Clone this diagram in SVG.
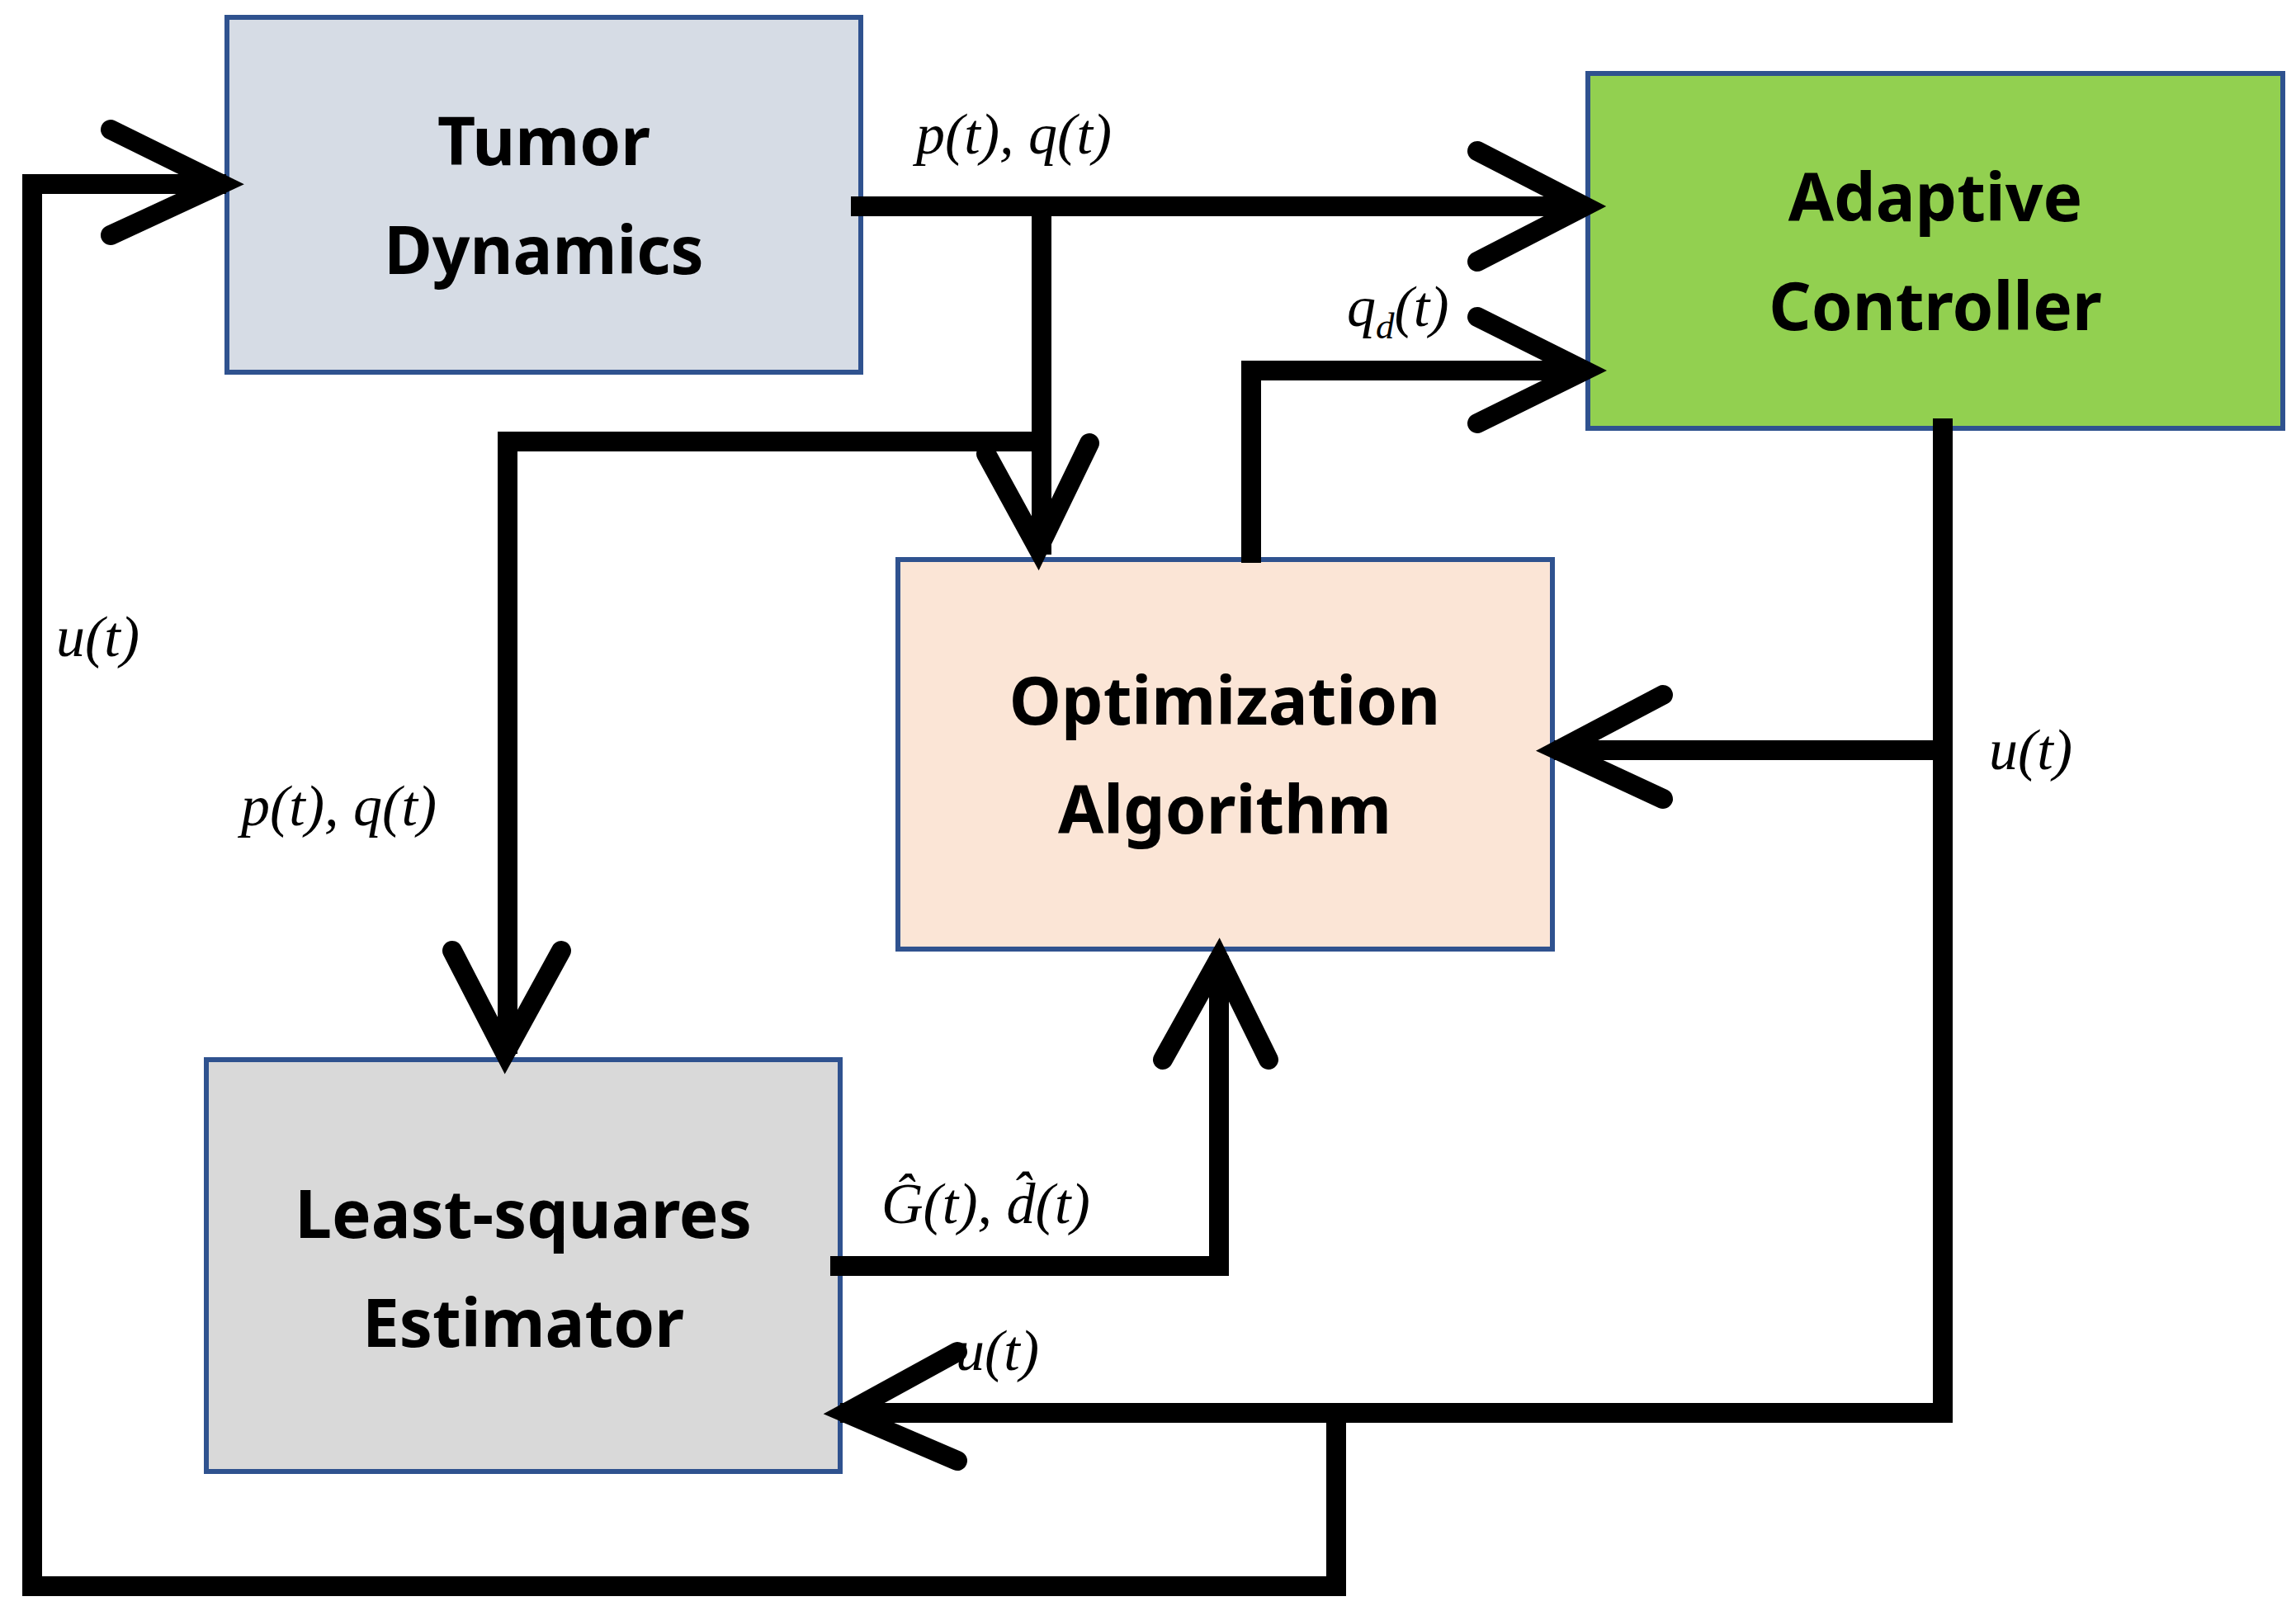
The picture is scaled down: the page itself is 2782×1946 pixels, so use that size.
<svg xmlns="http://www.w3.org/2000/svg" width="2782" height="1946" viewBox="0 0 2782 1946">
<style>
.box{stroke:#2f528f;stroke-width:6}
.bl{font-family:"Noto Sans","Liberation Sans",sans-serif;font-weight:bold;font-size:80px;text-anchor:middle;fill:#000}
.m{font-family:"Liberation Serif",serif;font-style:italic;font-size:70px;fill:#000}
.w{fill:none;stroke:#000;stroke-width:24;stroke-linejoin:miter;stroke-linecap:square}
.ch{fill:none;stroke:#000;stroke-width:24;stroke-linecap:round;stroke-linejoin:miter}
</style>
<rect width="2782" height="1946" fill="#fff"/>
<g id="tumor"><rect class="box" x="275" y="21" width="768" height="430" fill="#d6dce5"/><text class="bl" x="659" y="200">Tumor</text><text class="bl" x="659" y="332">Dynamics</text></g>
<g id="adaptive"><rect class="box" x="1924" y="89" width="842" height="430" fill="#92d050"/><text class="bl" x="2345" y="268">Adaptive</text><text class="bl" x="2345" y="400">Controller</text></g>
<g id="optim"><rect class="box" x="1088" y="678" width="793" height="472" fill="#fbe5d6"/><text class="bl" x="1484" y="878">Optimization</text><text class="bl" x="1484" y="1010">Algorithm</text></g>
<g id="lse"><rect class="box" x="250" y="1284" width="768" height="499" fill="#d9d9d9"/><text class="bl" x="634" y="1500">Least-squares</text><text class="bl" x="634" y="1632">Estimator</text></g>
<g id="connectors">
<path class="w" d="M1043 250H1910"/>
<path class="ch" d="M1790 183L1920 250L1790 317"/>
<path class="w" d="M1262 250V660"/>
<path class="w" d="M615 535H1240M615 535V1265"/>
<path class="ch" d="M1195 550L1258 665L1320 537"/>
<path class="ch" d="M548 1152L612 1276L680 1152"/>
<path class="w" d="M1516 670V449H1910"/>
<path class="ch" d="M1790 384L1920 449L1790 513"/>
<path class="w" d="M2354 519V1712H1030M2354 909H1895"/>
<path class="ch" d="M2015 842L1888 909L2015 968"/>
<path class="ch" d="M1160 1638L1025 1712L1160 1770"/>
<path class="w" d="M1619 1725V1922H39V223H262"/>
<path class="ch" d="M134 157L268 223L134 285"/>
<path class="w" d="M1018 1534H1477V1170"/>
<path class="ch" d="M1409 1284L1477 1162L1537 1284"/>
</g>
<g id="labels">
<text class="m" x="1110" y="186">p(t), q(t)</text>
<text class="m" x="1632" y="395">q<tspan font-size="45" dy="15">d</tspan><tspan dy="-15">(t)</tspan></text>
<text class="m" x="68" y="795">u(t)</text>
<text class="m" x="292" y="1000">p(t), q(t)</text>
<text class="m" x="2410" y="932">u(t)</text>
<text class="m" x="1068" y="1482">Ĝ(t), d̂(t)</text>
<text class="m" x="1158" y="1660">u(t)</text>
</g>
</svg>
